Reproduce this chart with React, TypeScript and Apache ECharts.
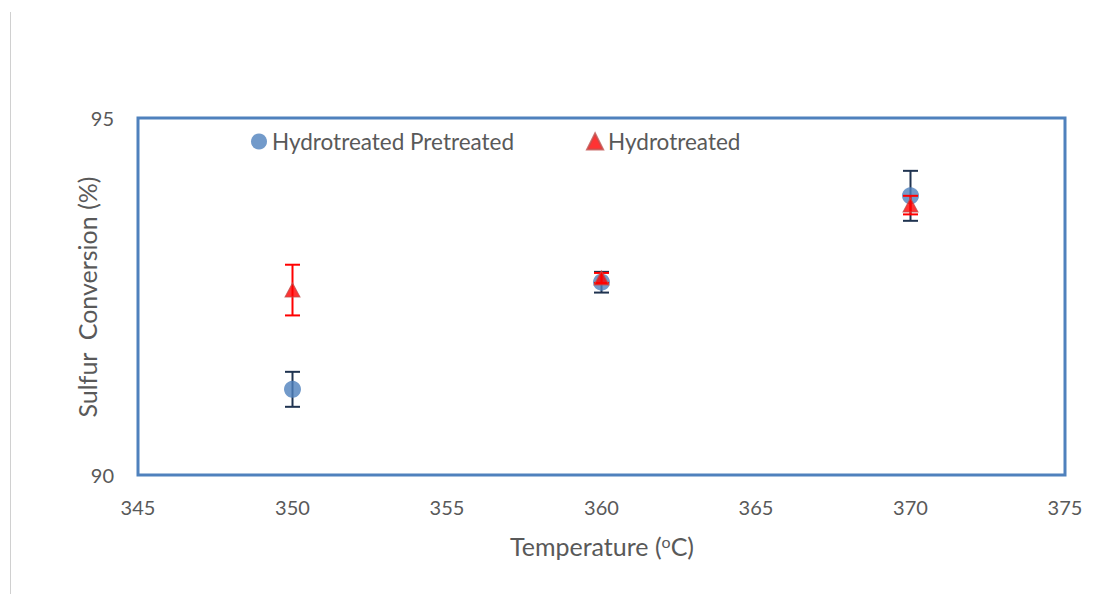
import React, { useEffect, useRef } from "react";
import * as echarts from "echarts";

const temps = [350, 360, 370];
const pretreatedVals = [91.2, 92.7, 93.91];
const pretreatedErr = [0.245, 0.145, 0.35];
const hydroVals = [92.59, 92.76, 93.78];
const hydroErr = [0.355, 0.07, 0.13];
const xTicks = { min: 345, max: 375, interval: 5 };
const yTicks = { min: 90, max: 95, interval: 5 };

const FONT = "Lato";
const TEXT = "#595959";

function errRender(color: string) {
  return (params: any, api: any) => {
    const x = api.value(0);
    const y = api.value(1);
    const e = api.value(2);
    const t = api.coord([x, y + e]);
    const b = api.coord([x, y - e]);
    const h = 7.5;
    const style = { stroke: color, lineWidth: 2 };
    return {
      type: "group",
      children: [
        { type: "line", shape: { x1: t[0], y1: t[1], x2: b[0], y2: b[1] }, style },
        { type: "line", shape: { x1: t[0] - h, y1: t[1], x2: t[0] + h, y2: t[1] }, style },
        { type: "line", shape: { x1: b[0] - h, y1: b[1], x2: b[0] + h, y2: b[1] }, style },
      ],
    };
  };
}

export default function App() {
  const ref = useRef<HTMLDivElement>(null);
  useEffect(() => {
    if (!ref.current) return;
    const chart = echarts.init(ref.current, null, { renderer: "svg" });
    const pre = temps.map((t, i) => [t, pretreatedVals[i]]);
    const hyd = temps.map((t, i) => [t, hydroVals[i]]);
    const preE = temps.map((t, i) => [t, pretreatedVals[i], pretreatedErr[i]]);
    const hydE = temps.map((t, i) => [t, hydroVals[i], hydroErr[i]]);
    chart.setOption({
      animation: false,
      backgroundColor: "#ffffff",
      textStyle: { fontFamily: FONT },
      grid: {
        left: 138,
        right: 43,
        top: 118,
        bottom: 119,
        show: true,
        borderColor: "#4F81BD",
        borderWidth: 3,
        backgroundColor: "transparent",
      },
      legend: {
        left: 246,
        top: 125,
        itemWidth: 16,
        itemHeight: 16,
        itemGap: 72,
        textStyle: { fontFamily: FONT, fontSize: 22.5, color: TEXT },
        data: [
          { name: "Hydrotreated Pretreated", icon: "circle" },
          { name: "Hydrotreated", icon: "triangle" },
        ],
      },
      xAxis: {
        type: "value",
        min: xTicks.min,
        max: xTicks.max,
        interval: xTicks.interval,
        axisLine: { show: false },
        axisTick: { show: false },
        splitLine: { show: false },
        axisLabel: { color: TEXT, fontSize: 20, fontFamily: FONT, margin: 22 },
        name: "",
      },
      yAxis: {
        type: "value",
        min: yTicks.min,
        max: yTicks.max,
        interval: yTicks.interval,
        axisLine: { show: false },
        axisTick: { show: false },
        splitLine: { show: false },
        axisLabel: { color: TEXT, fontSize: 20, fontFamily: FONT, margin: 24 },
      },
      graphic: [
        {
          type: "line",
          shape: { x1: 10.5, y1: 12, x2: 10.5, y2: 594 },
          style: { stroke: "#d0d0d0", lineWidth: 1 },
        },
        {
          type: "text",
          x: 87,
          y: 297,
          rotation: Math.PI / 2,
          style: {
            text: "Sulfur  Conversion (%)",
            fill: TEXT,
            font: `25px ${FONT}`,
            align: "center",
            verticalAlign: "middle",
          },
        },
        {
          type: "text",
          x: 602,
          y: 546,
          style: {
            text: "{n|Temperature (}{s|o}{n|C)}",
            align: "center",
            verticalAlign: "middle",
            rich: {
              n: { fontSize: 25, fontFamily: FONT, fill: TEXT, color: TEXT },
              s: {
                fontSize: 16,
                fontFamily: FONT,
                fill: TEXT,
                color: TEXT,
                verticalAlign: "top",
                padding: [0, 0, 10, 0],
              },
            },
          },
        },
      ],
      series: [
        {
          type: "custom",
          name: "preErr",
          renderItem: errRender("#1F3350"),
          data: preE,
          z: 1,
          silent: true,
        },
        {
          type: "scatter",
          name: "Hydrotreated Pretreated",
          symbol: "circle",
          symbolSize: 17,
          data: pre,
          itemStyle: { color: "#4F81BD" },
          z: 2,
        },
        {
          type: "custom",
          name: "hydErr",
          renderItem: errRender("#FF0000"),
          data: hydE,
          z: 3,
          silent: true,
        },
        {
          type: "scatter",
          name: "Hydrotreated",
          symbol: "triangle",
          symbolSize: [15, 14],
          data: hyd,
          itemStyle: { color: "#FF0000", borderColor: "#C0504D", borderWidth: 1 },
          z: 4,
        },
      ],
    });
    return () => chart.dispose();
  }, []);
  return (
    <div
      ref={ref}
      style={{ position: "fixed", left: 0, top: 0, width: 1108, height: 594 }}
    />
  );
}
